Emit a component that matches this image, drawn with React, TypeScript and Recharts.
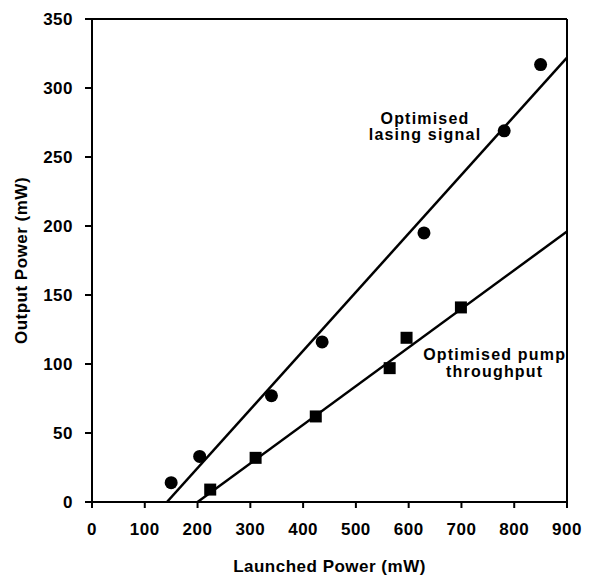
import React from "react";
import {
  ComposedChart,
  Scatter,
  Line,
  XAxis,
  YAxis,
  ReferenceLine,
  ReferenceDot,
} from "recharts";

const xTicks = [0, 100, 200, 300, 400, 500, 600, 700, 800, 900];
const yTicks = [0, 50, 100, 150, 200, 250, 300, 350];

const lasingX = [150, 204, 340, 436, 629, 781, 850];
const lasingY = [14, 33, 77, 116, 195, 269, 317];

const pumpX = [224, 310, 424, 564, 596, 699];
const pumpY = [9, 32, 62, 97, 119, 141];

const lasingFitX = [142, 900];
const lasingFitY = [0, 322];
const pumpFitX = [200, 900];
const pumpFitY = [0, 196];

const zip = (xs: number[], ys: number[]) => xs.map((x, i) => ({ x, y: ys[i] }));

const lasingData = zip(lasingX, lasingY);
const pumpData = zip(pumpX, pumpY);
const lasingFit = zip(lasingFitX, lasingFitY);
const pumpFit = zip(pumpFitX, pumpFitY);

const FONT = "'Liberation Sans', Arial, sans-serif";

const CircleShape = (p: any) => <circle cx={p.cx} cy={p.cy} r={6.5} fill="#000" />;
const SquareShape = (p: any) => (
  <rect x={p.cx - 6} y={p.cy - 6} width={12} height={12} fill="#000" />
);

const twoLine = (l1: string, l2: string, gap: number) => (props: any) => {
  const vb = props.viewBox || {};
  const cx = vb.x + (vb.width || 0) / 2;
  const cy = vb.y + (vb.height || 0) / 2;
  const common = {
    textAnchor: "middle" as const,
    fontFamily: FONT,
    fontWeight: "bold",
    fontSize: 16,
    letterSpacing: 1.2,
    fill: "#000",
  };
  return (
    <g>
      <text x={cx} y={cy} {...common}>{l1}</text>
      <text x={cx} y={cy + gap} {...common}>{l2}</text>
    </g>
  );
};

const tickStyle = {
  fill: "#000",
  fontFamily: FONT,
  fontWeight: "bold",
  fontSize: 17,
  letterSpacing: 0.5,
};

const labelStyle = {
  fill: "#000",
  fontFamily: FONT,
  fontWeight: "bold",
  fontSize: 17,
  letterSpacing: 0.5,
};

export default function App() {
  return (
    <ComposedChart
      width={584}
      height={571}
      margin={{ top: 11, right: 25, bottom: 17, left: 0 }}
    >
      <XAxis
        type="number"
        dataKey="x"
        domain={[0, 900]}
        ticks={xTicks}
        interval={0}
        allowDataOverflow
        height={60}
        tickSize={6}
        tickMargin={15}
        axisLine={{ stroke: "#000", strokeWidth: 2 }}
        tickLine={{ stroke: "#000", strokeWidth: 2 }}
        tick={tickStyle}
        label={{
          value: "Launched Power (mW)",
          position: "insideBottom",
          offset: -10,
          style: labelStyle,
        }}
      />
      <YAxis
        type="number"
        dataKey="y"
        domain={[0, 350]}
        ticks={yTicks}
        interval={0}
        allowDataOverflow
        width={84}
        tickSize={7}
        tickMargin={12}
        axisLine={{ stroke: "#000", strokeWidth: 2 }}
        tickLine={{ stroke: "#000", strokeWidth: 2 }}
        tick={tickStyle}
        label={{
          value: "Output Power (mW)",
          angle: -90,
          position: "insideLeft",
          offset: 13,
          style: { ...labelStyle, textAnchor: "middle" },
        }}
      />
      <ReferenceLine y={350} stroke="#000" strokeWidth={2} />
      <ReferenceLine x={900} stroke="#000" strokeWidth={2} />
      <Line
        data={lasingFit}
        dataKey="y"
        type="linear"
        stroke="#000"
        strokeWidth={2.5}
        dot={false}
        isAnimationActive={false}
      />
      <Line
        data={pumpFit}
        dataKey="y"
        type="linear"
        stroke="#000"
        strokeWidth={2.5}
        dot={false}
        isAnimationActive={false}
      />
      <Scatter data={lasingData} shape={CircleShape} isAnimationActive={false} />
      <Scatter data={pumpData} shape={SquareShape} isAnimationActive={false} />
      <ReferenceDot
        x={631}
        y={274}
        r={0}
        fill="none"
        stroke="none"
        label={twoLine("Optimised", "lasing signal", 16)}
      />
      <ReferenceDot
        x={763}
        y={103}
        r={0}
        fill="none"
        stroke="none"
        label={twoLine("Optimised pump", "throughput", 17)}
      />
    </ComposedChart>
  );
}
